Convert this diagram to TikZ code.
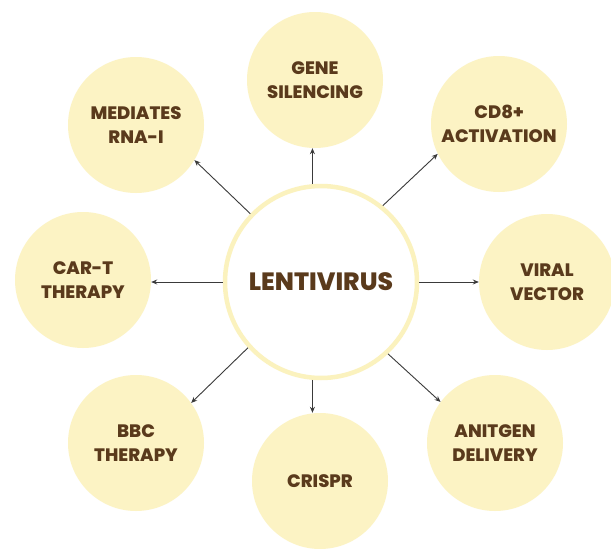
\documentclass[tikz,border=0pt]{standalone}
\usepackage{fontspec}
\setmainfont{Poppins}[BoldFont={Poppins ExtraBold}]
\usetikzlibrary{arrows.meta}
\definecolor{satfill}{HTML}{FCF3C4}
\definecolor{ringcol}{HTML}{FBF2BE}
\definecolor{txtbrown}{HTML}{5A3A1C}
\definecolor{arrcol}{HTML}{3A3A3A}
\tikzset{
  sat/.style={circle, fill=satfill, minimum size=136pt, inner sep=0pt, align=center,
    text=txtbrown, font=\fontsize{18}{23.5}\selectfont\bfseries},
  hub/.style={circle, draw=ringcol, line width=4.5pt, fill=white, minimum size=192pt,
    inner sep=0pt, text=txtbrown, font=\fontsize{25}{28}\selectfont\bfseries},
  arr/.style={draw=arrcol, line width=0.9pt, -{Stealth[length=6pt,width=5pt]}}
}
\begin{document}
\begin{tikzpicture}[x=1pt,y=-1pt]
\useasboundingbox (0,0) rectangle (611,549);
\fill[white] (0,0) rectangle (611,549);
\node[hub] (c) at (321,282) {LENTIVIRUS};
\node[sat] (gene) at (315,80) {GENE\\SILENCING};
\node[sat] (cd8) at (499,124) {CD8+\\ACTIVATION};
\node[sat] (viral) at (547,282) {VIRAL\\VECTOR};
\node[sat] (anti) at (495,443) {ANITGEN\\DELIVERY};
\node[sat] (crispr) at (320,481) {CRISPR};
\node[sat] (bbc) at (136,443) {BBC\\THERAPY};
\node[sat] (cart) at (83,280) {CAR-T\\THERAPY};
\node[sat] (rna) at (136,125) {MEDIATES\\RNA-I};
\draw[arr] (c.95) -- (c.95 |- gene.south);
\draw[arr] (c.51) -- (cd8.206);
\draw[arr] (c.east) -- (c.east -| viral.west);
\draw[arr] (c.313) -- (anti.143);
\draw[arr] (c.265) -- (c.265 |- crispr.north);
\draw[arr] (c.222) -- (bbc.36);
\draw[arr] (c.west) -- (c.west -| cart.east);
\draw[arr] (c.136) -- (rna.329);
\end{tikzpicture}
\end{document}
